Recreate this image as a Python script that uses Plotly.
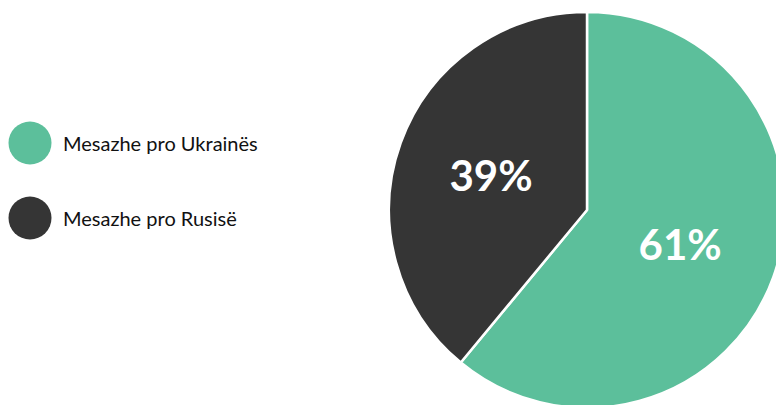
import plotly.graph_objects as go

# data
labels = ["Mesazhe pro Ukrainës", "Mesazhe pro Rusisë"]
values = [61, 39]
colors = ["#5cbf9b", "#353535"]

W, H = 800, 420

fig = go.Figure()

fig.add_trace(go.Pie(
    labels=labels,
    values=values,
    sort=False,
    direction="clockwise",
    rotation=0,
    marker=dict(colors=colors, line=dict(color="white", width=2.5)),
    textinfo="percent",
    textposition="inside",
    insidetextorientation="horizontal",
    textfont=dict(family="Lato", size=42, color="white", weight="bold"),
    domain=dict(x=[389 / W, 785 / W], y=[(H - 408) / H, (H - 12) / H]),
    showlegend=False,
    hoverinfo="skip",
))

# legend drawn as big circle markers
fig.add_trace(go.Scatter(
    x=[0] * len(labels),
    y=labels,
    mode="markers",
    marker=dict(size=43, color=colors),
    showlegend=False,
    hoverinfo="skip",
    cliponaxis=False,
))

for lab in labels:
    fig.add_annotation(x=0, y=lab, text=lab, showarrow=False,
                       xanchor="left", yanchor="middle", xshift=31,
                       font=dict(family="Lato", size=20, color="#111111"))

fig.update_xaxes(visible=False, range=[-0.3, (W - 30) / 100], domain=[0, 1])
fig.update_yaxes(visible=False, type="category", categoryorder="array",
                 categoryarray=labels,
                 range=[1 + (H - 218) / 75, -143 / 75], domain=[0, 1])

fig.update_layout(
    width=W,
    height=H,
    margin=dict(l=0, r=0, t=0, b=0),
    paper_bgcolor="white",
    plot_bgcolor="white",
    showlegend=False,
)

fig.write_html("out.html", config={"displayModeBar": False},
               post_script="document.body.style.margin='0';"
                           "document.body.style.overflow='hidden';")
